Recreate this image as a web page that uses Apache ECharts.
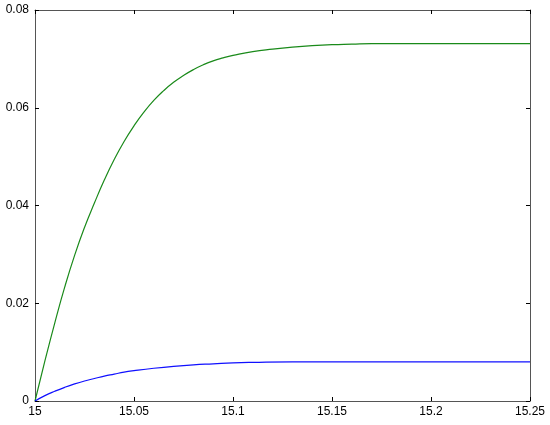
<!DOCTYPE html>
<html>
<head>
<meta charset="utf-8">
<script src="https://cdn.jsdelivr.net/npm/echarts@6/dist/echarts.min.js"></script>
<style>
  html, body { margin: 0; padding: 0; background: #fff; }
  #main { width: 550px; height: 425px; }
</style>
</head>
<body>
<div id="main"></div>
<script>
// values
var greenX = [15.000, 15.005, 15.010, 15.015, 15.020, 15.025, 15.030, 15.035, 15.040, 15.045,
              15.050, 15.055, 15.060, 15.065, 15.070, 15.075, 15.080, 15.085, 15.090, 15.095,
              15.100, 15.110, 15.120, 15.130, 15.140, 15.150, 15.160, 15.170, 15.180, 15.200,
              15.220, 15.250];
var greenY = [0, 0.0082, 0.0160, 0.0233, 0.0298, 0.0355, 0.0405, 0.0452, 0.0494, 0.0531,
              0.0563, 0.0591, 0.0615, 0.0635, 0.0652, 0.0666, 0.0678, 0.0688, 0.0696, 0.0702,
              0.0707, 0.0715, 0.0720, 0.0724, 0.0727, 0.0729, 0.0730, 0.0731, 0.0731, 0.0731,
              0.0731, 0.0731];

var blueX = [15.000, 15.005, 15.010, 15.015, 15.020, 15.025, 15.030, 15.035, 15.040, 15.045,
             15.050, 15.060, 15.070, 15.080, 15.090, 15.100, 15.110, 15.130, 15.160, 15.200,
             15.250];
var blueY = [0, 0.0011, 0.0020, 0.0028, 0.0035, 0.0041, 0.0046, 0.0051, 0.0055, 0.0059,
             0.0062, 0.0067, 0.0071, 0.0074, 0.0076, 0.0078, 0.0079, 0.0080, 0.0080, 0.0080,
             0.0080];

function pairs(xs, ys) {
  return xs.map(function (x, i) { return [x, ys[i]]; });
}

var axisColor = '#555';
var labelFont = { color: '#000', fontSize: 12, fontFamily: 'Liberation Sans, Arial, sans-serif' };

var chart = echarts.init(document.getElementById('main'));
var option = {
  animation: false,
  grid: { left: 35, right: 20, top: 10, bottom: 24 },
  xAxis: [
    {
      type: 'value', position: 'bottom',
      min: 15, max: 15.25, interval: 0.05,
      axisLine: { show: true, lineStyle: { color: axisColor, width: 1 } },
      axisTick: { show: true, inside: true, length: 4, lineStyle: { color: '#000' } },
      splitLine: { show: false },
      axisLabel: Object.assign({
        margin: 5,
        formatter: function (v) { return String(Number(v.toFixed(2))); }
      }, labelFont)
    },
    {
      type: 'value', position: 'top',
      min: 15, max: 15.25, interval: 0.05,
      axisLine: { show: true, onZero: false, lineStyle: { color: axisColor, width: 1 } },
      axisTick: { show: true, inside: true, length: 4, lineStyle: { color: '#000' } },
      splitLine: { show: false },
      axisLabel: { show: false }
    }
  ],
  yAxis: [
    {
      type: 'value', position: 'left',
      min: 0, max: 0.08, interval: 0.02,
      axisLine: { show: true, lineStyle: { color: axisColor, width: 1 } },
      axisTick: { show: true, inside: true, length: 4, lineStyle: { color: '#000' } },
      splitLine: { show: false },
      axisLabel: Object.assign({
        margin: 6,
        formatter: function (v) { return String(Number(v.toFixed(2))); }
      }, labelFont)
    },
    {
      type: 'value', position: 'right',
      min: 0, max: 0.08, interval: 0.02,
      axisLine: { show: true, onZero: false, lineStyle: { color: axisColor, width: 1 } },
      axisTick: { show: true, inside: true, length: 4, lineStyle: { color: '#000' } },
      splitLine: { show: false },
      axisLabel: { show: false }
    }
  ],
  series: [
    {
      type: 'line', xAxisIndex: 0, yAxisIndex: 0,
      data: pairs(greenX, greenY),
      smooth: 0.5, showSymbol: false,
      lineStyle: { color: '#1a8a1a', width: 1.2 }
    },
    {
      type: 'line', xAxisIndex: 0, yAxisIndex: 0,
      data: pairs(blueX, blueY),
      smooth: 0.5, showSymbol: false,
      lineStyle: { color: '#1010ff', width: 1.2 }
    }
  ]
};
chart.setOption(option);
</script>
</body>
</html>
